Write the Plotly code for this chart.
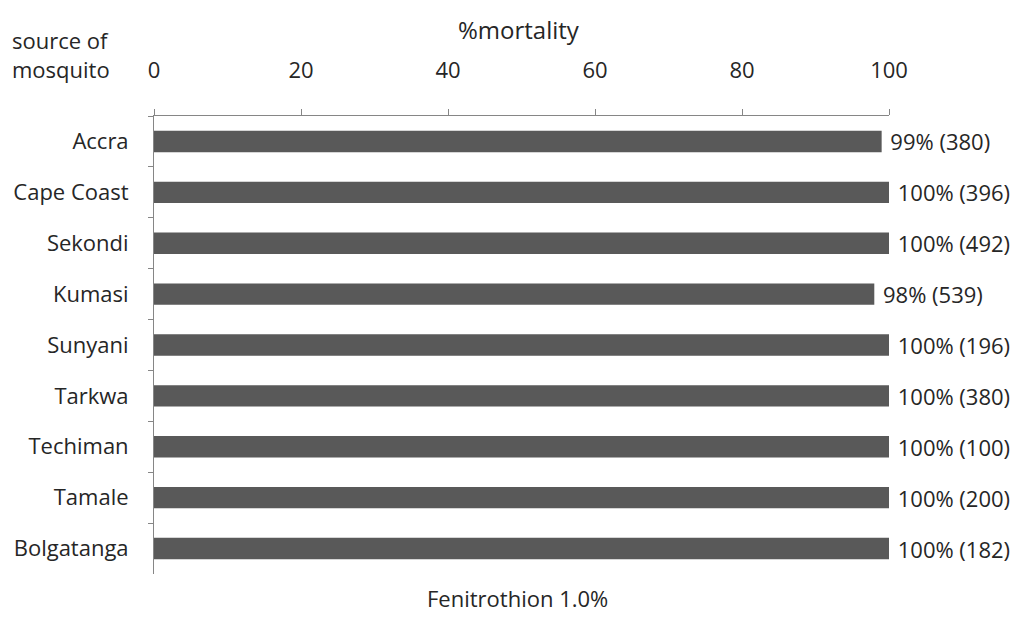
import plotly.graph_objects as go

sites = ["Accra", "Cape Coast", "Sekondi", "Kumasi", "Sunyani", "Tarkwa",
         "Techiman", "Tamale", "Bolgatanga"]
mortality = [99, 100, 100, 98, 100, 100, 100, 100, 100]
n_tested = [380, 396, 492, 539, 196, 380, 100, 200, 182]
labels = [f" {m}% ({n})" for m, n in zip(mortality, n_tested)]

FONT = "Open Sans"
AX = "#868686"
TXT = "#262626"

fig = go.Figure(go.Bar(
    x=mortality, y=sites, orientation="h",
    marker=dict(color="#595959", line=dict(width=0)),
    text=labels, textposition="outside", cliponaxis=False,
    constraintext="none",
    textfont=dict(family=FONT, size=22, color=TXT),
    width=0.42,
))

fig.update_layout(
    width=1026, height=639,
    margin=dict(l=146, r=145, t=108, b=73, autoexpand=False),
    paper_bgcolor="white", plot_bgcolor="white",
    showlegend=False,
    font=dict(family=FONT, size=22, color=TXT),
    xaxis=dict(
        side="top", range=[0, 100], dtick=20, showgrid=False, zeroline=False,
        showline=True, linecolor=AX, linewidth=1,
        ticks="outside", ticklen=6, tickcolor=AX,
        tickfont=dict(size=22), ticklabelstandoff=22,
    ),
    yaxis=dict(
        autorange="reversed", showgrid=False, zeroline=False,
        showline=True, linecolor=AX, linewidth=1,
        ticks="outside", ticklen=5, tickcolor=AX, tickson="boundaries",
        tickfont=dict(size=22), ticklabelstandoff=20,
    ),
    annotations=[
        dict(text="%mortality", xref="paper", yref="paper",
             x=0.497, y=1.188, xanchor="center", yanchor="middle",
             showarrow=False, font=dict(size=24)),
        dict(text="source of<br>mosquito", xref="paper", yref="paper",
             x=-0.196, y=1.135, xanchor="left", yanchor="middle", align="left",
             showarrow=False, font=dict(size=22)),
        dict(text="Fenitrothion 1.0%", xref="paper", yref="paper",
             x=0.495, y=-0.052, xanchor="center", yanchor="middle",
             showarrow=False, font=dict(size=22)),
    ],
)

fig.write_html("out.html")
